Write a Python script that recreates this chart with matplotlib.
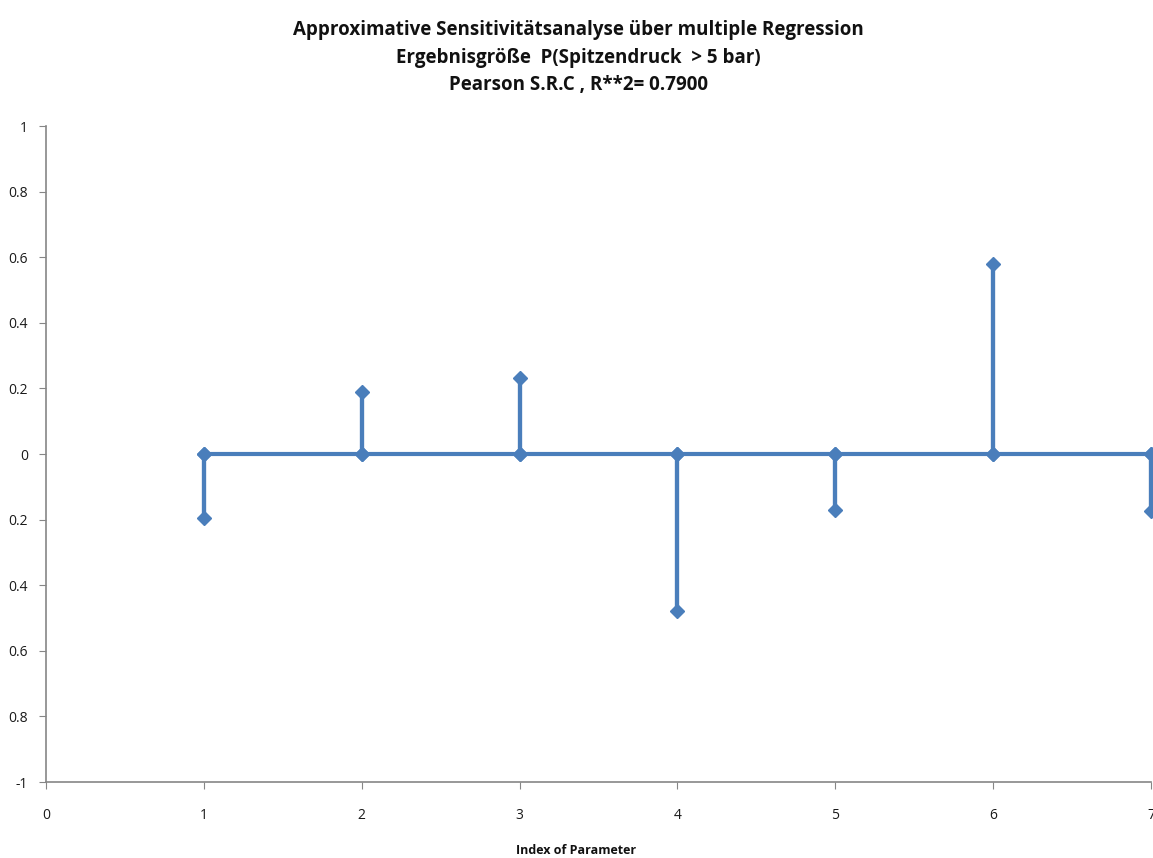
import matplotlib.pyplot as plt
import numpy as np

# Sensitivity coefficients per parameter
param_index = [1, 2, 3, 4, 5, 6, 7]
src_values = [-0.195, 0.19, 0.232, -0.479, -0.171, 0.579, -0.174]

y_ticks = [1, 0.8, 0.6, 0.4, 0.2, 0, -0.2, -0.4, -0.6, -0.8, -1]
y_tick_labels = ['1', '0.8', '0.6', '0.4', '0.2', '0', '0.2', '0.4', '0.6', '0.8', '-1']
x_ticks = [0, 1, 2, 3, 4, 5, 6, 7]

title_lines = ['Approximative Sensitivitätsanalyse über multiple Regression',
               'Ergebnisgröße  P(Spitzendruck  > 5 bar)',
               'Pearson S.R.C , R**2= 0.7900']

fam = ['Open Sans', 'DejaVu Sans']
blue = '#4a7ebb'
grey = '#868686'

# build stem path: (i,0) -> (i,v) -> (i,0) -> next
xs, ys = [], []
for i, v in zip(param_index, src_values):
    xs += [i, i, i]
    ys += [0, v, 0]

fig = plt.figure(figsize=(11.53, 8.58), dpi=100)
ax = fig.add_axes([46 / 1153, 1 - 782 / 858, 1105 / 1153, (782 - 126) / 858])

ax.plot(xs, ys, color=blue, lw=3, marker='D', ms=7.5, mfc=blue, mec=blue,
        clip_on=False, zorder=3)

ax.set_xlim(0, 7)
ax.set_ylim(-1, 1)
ax.set_xticks(x_ticks)
ax.set_xticklabels([str(t) for t in x_ticks], family=fam, fontsize=10)
ax.set_yticks(y_ticks)
ax.set_yticklabels(y_tick_labels, family=fam, fontsize=10)

for s in ['top', 'right']:
    ax.spines[s].set_visible(False)
for s in ['left', 'bottom']:
    ax.spines[s].set_color(grey)
    ax.spines[s].set_linewidth(1.2)
ax.tick_params(axis='both', direction='out', length=5, color=grey, labelcolor='#1a1a1a')
ax.tick_params(axis='x', pad=14)
ax.tick_params(axis='y', pad=8)

for k, line in enumerate(title_lines):
    fig.text(0.502, 1 - (30 + 27.5 * k) / 858, line, ha='center', va='center',
             fontsize=13.5, fontweight='bold', family=fam, color='#111111')

fig.text(0.5, 1 - 850 / 858, 'Index of Parameter', ha='center', va='center',
         fontsize=9, fontweight='bold', family=fam, color='#111111')

fig.savefig('out.png', dpi=100)
